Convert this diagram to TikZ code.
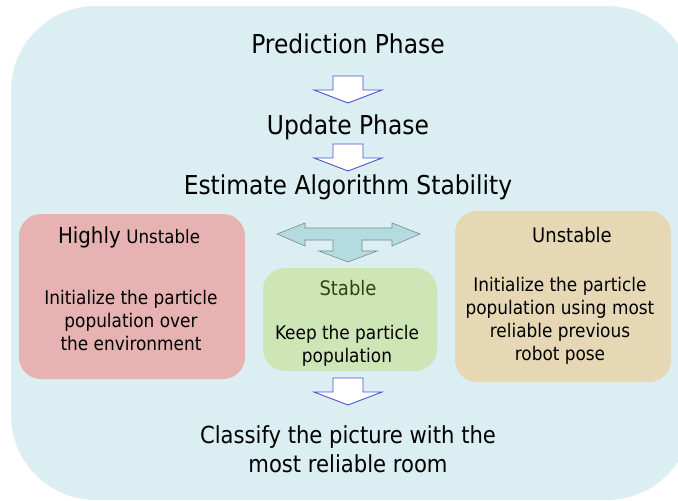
\documentclass[tikz,border=0pt]{standalone}
\usepackage{fontspec}
\setmainfont{DejaVu Sans Condensed}
\usetikzlibrary{positioning}

\definecolor{bgblue}{RGB}{219,238,241}
\definecolor{boxpink}{RGB}{230,178,178}
\definecolor{boxtan}{RGB}{230,216,181}
\definecolor{boxgreen}{RGB}{206,230,181}
\definecolor{stabletext}{RGB}{50,68,22}
\definecolor{arrowblue}{RGB}{80,80,210}
\definecolor{teefill}{RGB}{180,220,224}
\definecolor{teeedge}{RGB}{120,136,142}

\begin{document}
\begin{tikzpicture}[
    x=1pt, y=-1pt,
    phase/.style={inner sep=0pt, font=\fontsize{26}{29}\selectfont, align=center},
    case/.style={rounded corners=22pt, inner sep=0pt},
    casetitle/.style={inner sep=0pt, font=\fontsize{20}{22}\selectfont},
    casebody/.style={inner sep=0pt, align=center, font=\fontsize{18.8}{23}\selectfont},
    blockarrow/.pic={
        \draw[arrowblue, fill=white, line width=0.9pt, line join=miter]
            (-15,0) -- (15,0) -- (15,14) -- (34,14) -- (0,27) -- (-34,14) -- (-15,14) -- cycle;
    }
]
\clip (0,0) rectangle (678,501);
\useasboundingbox (0,0) rectangle (678,501);
\fill[bgblue, rounded corners=85pt] (11,6) rectangle (692,500);

% main flow
\node[phase] (predict) at (348,44) {Prediction Phase};
\node[phase] (update) at (348,127) {Update Phase};
\node[phase] (estimate) at (348,187) {Estimate Algorithm Stability};
\node[phase, font=\fontsize{23.5}{29}\selectfont] (classify) at (348,449) {Classify the picture with the\\most reliable room};

\pic at (348,76) {blockarrow};
\pic at (348,144) {blockarrow};
\pic at (348,378) {blockarrow};

% the three cases
\node[case, fill=boxpink, minimum width=226pt, minimum height=165pt] (highly) at (132,296.5) {};
\node[case, fill=boxgreen, minimum width=174pt, minimum height=103pt] (stable) at (350,319.5) {};
\node[case, fill=boxtan, minimum width=216pt, minimum height=171pt] (unstable) at (563,296.5) {};

\node[casetitle] (highlytitle) at (129,237) {{\fontsize{22}{22}\selectfont Highly} {\fontsize{18.5}{22}\selectfont Unstable}};
\node[casebody] (highlybody) at (131,320.5) {Initialize the particle\\population over\\the environment};

\node[casetitle, text=stabletext] (stabletitle) at (348,288) {Stable};
\node[casebody] (stablebody) at (347,345.5) {Keep the particle\\population};

\node[casetitle] (unstabletitle) at (572,235) {Unstable};
\node[casebody] (unstablebody) at (560,320.5) {Initialize the particle\\population using most\\reliable previous\\robot pose};

% split arrow towards the cases
\draw[teeedge, fill=teefill, line width=0.6pt, line join=miter]
    (277,234) -- (305,223) -- (305,228) -- (392,228) -- (392,223) -- (420,234)
    -- (392,246) -- (392,240) -- (362,240) -- (362,251) -- (377,251) -- (348,262)
    -- (319,251) -- (333,251) -- (333,240) -- (305,240) -- (305,246) -- cycle;
\end{tikzpicture}
\end{document}
